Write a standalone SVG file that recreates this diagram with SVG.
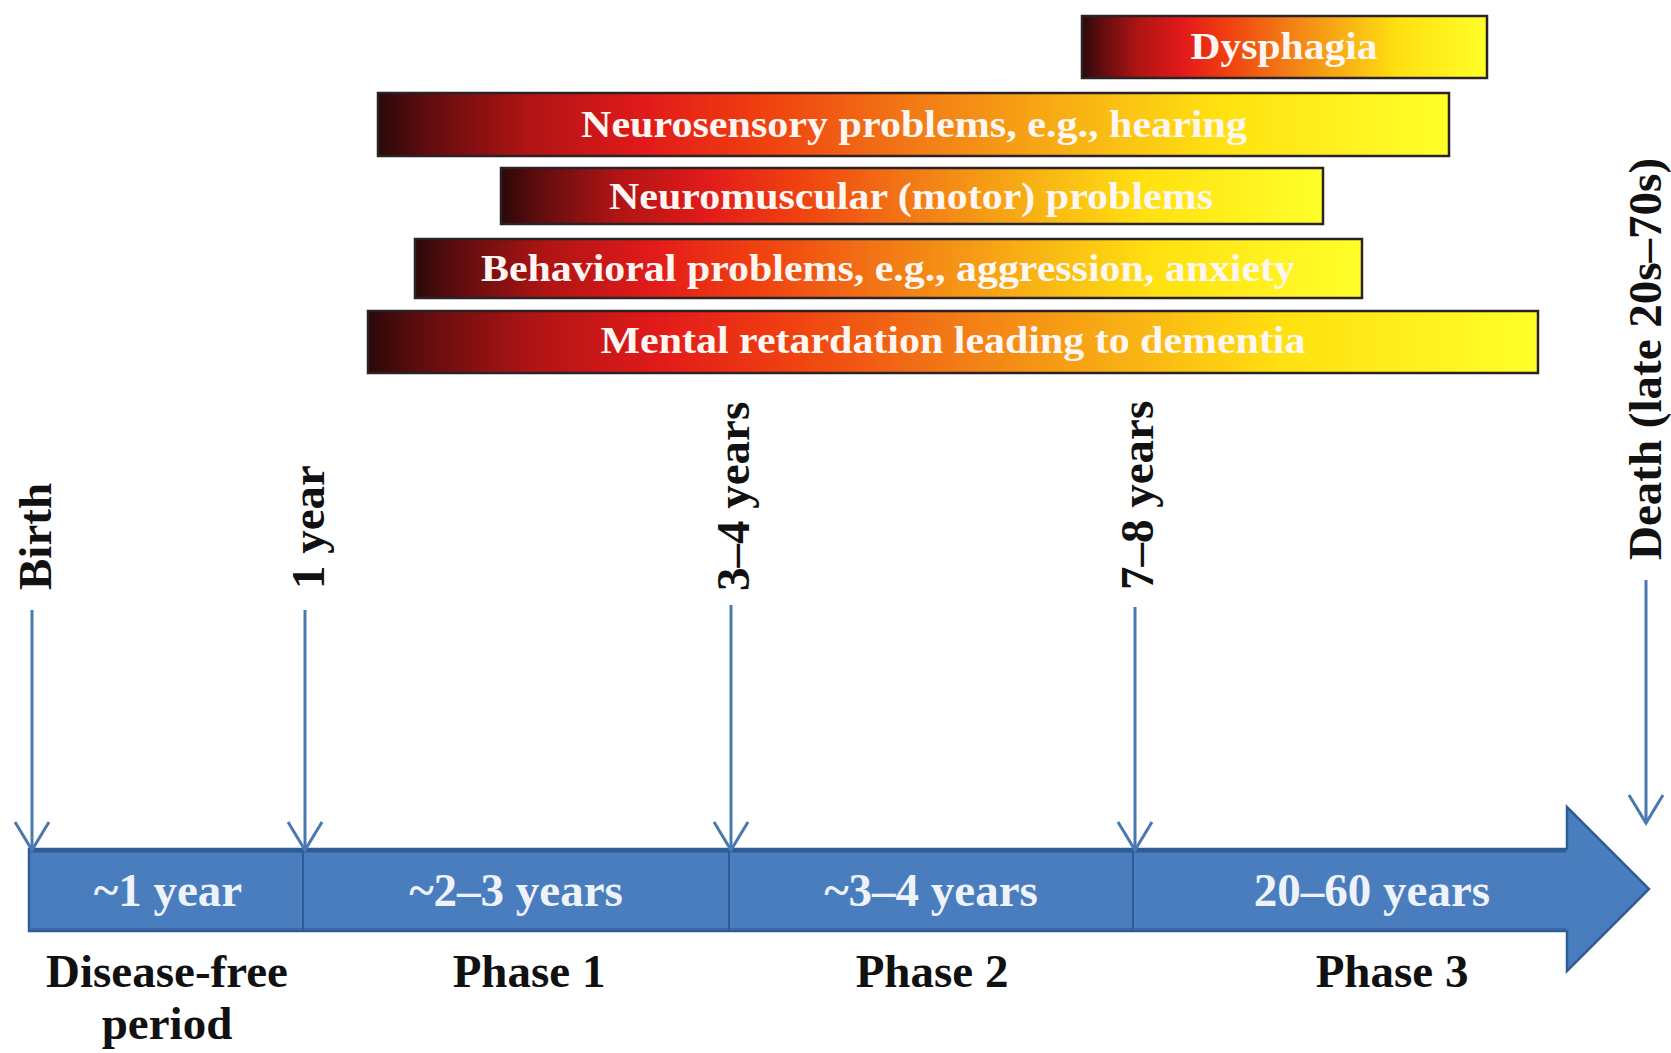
<svg xmlns="http://www.w3.org/2000/svg" width="1671" height="1053" viewBox="0 0 1671 1053">
<style>
.bar{fill:url(#grad);stroke:#2a2226;stroke-width:2.5}
.bl{font-family:"Liberation Serif","Times New Roman",serif;font-weight:bold;font-size:38px;fill:#fff6f2;text-anchor:middle}
.tl{font-family:"Liberation Serif","Times New Roman",serif;font-weight:bold;font-size:47px;fill:#eef3fb;text-anchor:middle}
.ph{font-family:"Liberation Serif","Times New Roman",serif;font-weight:bold;font-size:47px;fill:#111;text-anchor:middle}
.ms{font-family:"Liberation Serif","Times New Roman",serif;font-weight:bold;font-size:47px;fill:#111}
.arr{stroke:#4a78b0;stroke-width:3;fill:none;marker-end:url(#vhead)}
.div{stroke:#2e5c94;stroke-width:2}
</style>
<defs>
<linearGradient id="grad" x1="0" y1="0" x2="1" y2="0">
<stop offset="0" stop-color="#2a0808"/>
<stop offset="0.04" stop-color="#5a0c0e"/>
<stop offset="0.14" stop-color="#b01414"/>
<stop offset="0.25" stop-color="#e21a1a"/>
<stop offset="0.36" stop-color="#f04010"/>
<stop offset="0.5" stop-color="#f27a16"/>
<stop offset="0.65" stop-color="#f8b214"/>
<stop offset="0.78" stop-color="#ffe010"/>
<stop offset="1" stop-color="#ffff2a"/>
</linearGradient>
<marker id="vhead" markerUnits="userSpaceOnUse" markerWidth="60" markerHeight="60" refX="0" refY="0" orient="auto" overflow="visible">
<path d="M-28,-17 L0,0 L-28,17" fill="none" stroke="#4a78b0" stroke-width="3"/>
</marker>
</defs>
<rect width="1671" height="1053" fill="#ffffff"/>

<g id="dysphagia">
<rect class="bar" x="1082" y="16" width="405" height="62"/>
<text class="bl" x="1284" y="59" textLength="187" lengthAdjust="spacingAndGlyphs">Dysphagia</text>
</g>
<g id="neurosensory">
<rect class="bar" x="378" y="93" width="1071" height="63"/>
<text class="bl" x="914" y="137" textLength="666" lengthAdjust="spacingAndGlyphs">Neurosensory problems, e.g., hearing</text>
</g>
<g id="neuromuscular">
<rect class="bar" x="501" y="168" width="822" height="56"/>
<text class="bl" x="911" y="209" textLength="604" lengthAdjust="spacingAndGlyphs">Neuromuscular (motor) problems</text>
</g>
<g id="behavioral">
<rect class="bar" x="415" y="239" width="947" height="59"/>
<text class="bl" x="888" y="281" textLength="814" lengthAdjust="spacingAndGlyphs">Behavioral problems, e.g., aggression, anxiety</text>
</g>
<g id="mental">
<rect class="bar" x="368" y="311" width="1170" height="62"/>
<text class="bl" x="953" y="353" textLength="705" lengthAdjust="spacingAndGlyphs">Mental retardation leading to dementia</text>
</g>

<g id="timeline">
<path d="M29,849 L1567,849 L1567,807 L1649,889 L1567,971 L1567,931 L29,931 Z" fill="#4a7dbe" stroke="#2e5c94" stroke-width="2.5"/>
<line x1="30" y1="851" x2="1566" y2="851" stroke="#2e5c94" stroke-width="3"/>
<line x1="30" y1="929" x2="1566" y2="929" stroke="#3a68a4" stroke-width="2"/>
<line class="div" x1="303" y1="849" x2="303" y2="931"/>
<line class="div" x1="729" y1="849" x2="729" y2="931"/>
<line class="div" x1="1133" y1="849" x2="1133" y2="931"/>
</g>
<g id="seg-disease-free">
<text class="tl" x="168" y="906">~1 year</text>
<text class="ph" x="167" y="987">Disease-free</text>
<text class="ph" x="167" y="1039">period</text>
</g>
<g id="seg-phase1">
<text class="tl" x="516" y="906">~2–3 years</text>
<text class="ph" x="529" y="987">Phase 1</text>
</g>
<g id="seg-phase2">
<text class="tl" x="931" y="906">~3–4 years</text>
<text class="ph" x="932" y="987">Phase 2</text>
</g>
<g id="seg-phase3">
<text class="tl" x="1372" y="906">20–60 years</text>
<text class="ph" x="1392" y="987">Phase 3</text>
</g>

<g id="milestone-birth">
<text class="ms" transform="translate(51,590) rotate(-90)">Birth</text>
</g>
<g id="milestone-1year">
<text class="ms" transform="translate(324,589) rotate(-90)">1 year</text>
</g>
<g id="milestone-3-4years">
<text class="ms" transform="translate(749,591) rotate(-90)">3–4 years</text>
</g>
<g id="milestone-7-8years">
<text class="ms" transform="translate(1153,590) rotate(-90)">7–8 years</text>
</g>
<g id="milestone-death">
<text class="ms" transform="translate(1661,560) rotate(-90)">Death (late 20s–70s)</text>
</g>

<g id="connectors">
<line class="arr" x1="32" y1="610" x2="32" y2="850"/>
<line class="arr" x1="305" y1="610" x2="305" y2="850"/>
<line class="arr" x1="731" y1="605" x2="731" y2="850"/>
<line class="arr" x1="1135" y1="607" x2="1135" y2="850"/>
<line class="arr" x1="1646" y1="580" x2="1646" y2="823"/>
</g>
</svg>
